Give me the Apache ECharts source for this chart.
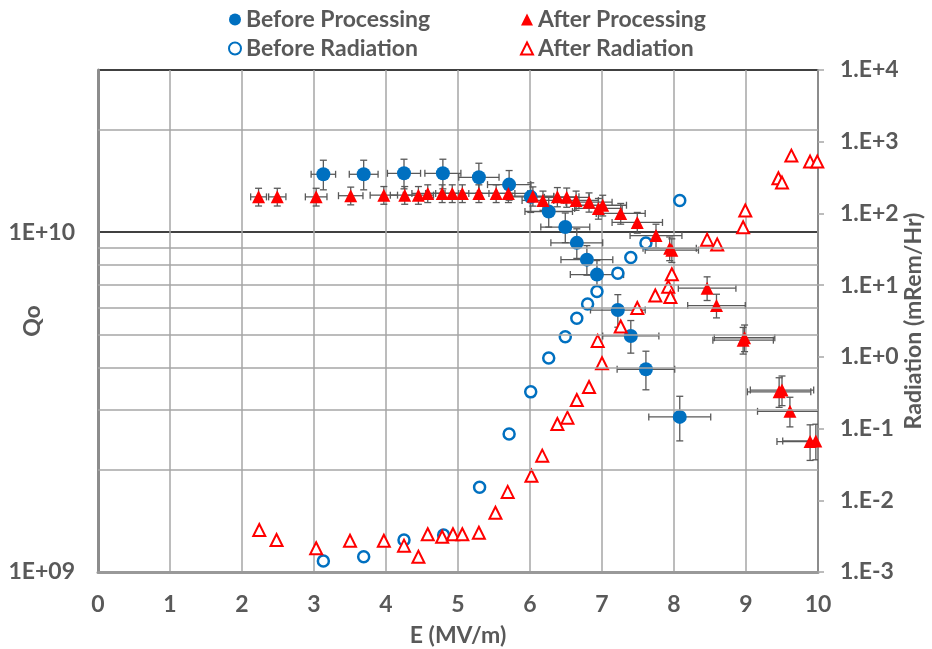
<!DOCTYPE html>
<html>
<head>
<meta charset="utf-8">
<title>Qo and radiation vs E</title>
<script src="https://cdn.jsdelivr.net/npm/echarts@6/dist/echarts.min.js"></script>
<style>
  html, body { margin: 0; padding: 0; background: #fff; }
  #chart { width: 932px; height: 649px; }
</style>
</head>
<body>
<div id="chart"></div>
<script>
// Before Processing (Qo, left axis)
var bpE    = [3.13, 3.69, 4.25, 4.79, 5.29, 5.71, 6.01, 6.26, 6.49, 6.65, 6.79, 6.93, 7.22, 7.40, 7.61, 8.08];
var bpQ    = [1.48e10, 1.48e10, 1.49e10, 1.49e10, 1.45e10, 1.38e10, 1.27e10, 1.15e10, 1.035e10, 9.3e9, 8.3e9, 7.5e9, 5.9e9, 4.95e9, 3.95e9, 2.86e9];
var bpEerr = [0.17, 0.20, 0.23, 0.25, 0.28, 0.30, 0.32, 0.33, 0.34, 0.36, 0.36, 0.37, 0.38, 0.39, 0.40, 0.43];
var bpQerr = [0.10, 0.10, 0.10, 0.10, 0.10, 0.10, 0.10, 0.10, 0.10, 0.10, 0.10, 0.10, 0.11, 0.11, 0.13, 0.15];

// After Processing (Qo, left axis)
var apE    = [2.23, 2.49, 3.03, 3.51, 3.97, 4.26, 4.45, 4.58, 4.78, 4.92, 5.06, 5.29, 5.53, 5.70, 6.04, 6.18, 6.38, 6.51, 6.64, 6.82,
              6.95, 7.01, 7.26, 7.49, 7.75, 7.94, 7.97, 8.46, 8.59, 8.96, 8.98, 9.46, 9.50, 9.61, 9.89, 9.97];
var apQ    = [1.27e10, 1.27e10, 1.27e10, 1.28e10, 1.285e10, 1.285e10, 1.285e10, 1.3e10, 1.3e10, 1.3e10, 1.3e10, 1.3e10, 1.3e10, 1.3e10,
              1.276e10, 1.24e10, 1.27e10, 1.266e10, 1.24e10, 1.225e10, 1.174e10, 1.2e10, 1.135e10, 1.068e10, 9.77e9, 8.96e9, 8.85e9,
              6.84e9, 6.08e9, 4.81e9, 4.89e9, 3.39e9, 3.43e9, 2.97e9, 2.42e9, 2.43e9];
var apEerr = [0.11, 0.12, 0.15, 0.17, 0.19, 0.20, 0.21, 0.22, 0.23, 0.23, 0.24, 0.25, 0.26, 0.27, 0.29, 0.29, 0.30, 0.31, 0.31, 0.32,
              0.33, 0.33, 0.34, 0.35, 0.36, 0.37, 0.37, 0.40, 0.40, 0.42, 0.42, 0.44, 0.44, 0.45, 0.46, 0.46];
var apQerr = [0.06, 0.06, 0.06, 0.06, 0.06, 0.06, 0.06, 0.06, 0.06, 0.06, 0.06, 0.06, 0.06, 0.06, 0.065, 0.065, 0.065, 0.065, 0.065, 0.065,
              0.07, 0.07, 0.07, 0.07, 0.08, 0.08, 0.08, 0.08, 0.08, 0.09, 0.09, 0.10, 0.10, 0.10, 0.12, 0.12];

// Before Radiation (mRem/Hr, right axis)
var brE = [3.13, 3.69, 4.25, 4.80, 5.30, 5.71, 6.01, 6.26, 6.49, 6.65, 6.80, 6.93, 7.22, 7.40, 7.61, 8.08];
var brR = [1.42e-3, 1.63e-3, 2.8e-3, 3.28e-3, 1.52e-2, 8.4e-2, 0.325, 0.966, 1.91, 3.45, 5.47, 8.17, 14.7, 24.3, 38.8, 151];

// After Radiation (mRem/Hr, right axis)
var arE = [2.24, 2.48, 3.03, 3.50, 3.97, 4.25, 4.45, 4.58, 4.78, 4.93, 5.06, 5.29, 5.52, 5.69, 6.02, 6.17, 6.38, 6.52, 6.65, 6.82,
           6.94, 7.00, 7.26, 7.49, 7.74, 7.92, 7.95, 7.97, 8.46, 8.60, 8.96, 8.99, 9.45, 9.50, 9.63, 9.89, 9.99];
var arR = [3.86e-3, 2.8e-3, 2.14e-3, 2.73e-3, 2.73e-3, 2.33e-3, 1.63e-3, 3.36e-3, 3.1e-3, 3.36e-3, 3.36e-3, 3.53e-3, 6.7e-3, 1.31e-2,
           2.2e-2, 4.19e-2, 0.116, 0.142, 0.25, 0.38, 1.67, 0.815, 2.65, 4.81, 7.18, 9.53, 6.84, 14.2, 43.1, 37.0, 64.2, 110,
           310, 269, 640, 528, 528];

// horizontal minor grid lines of the Qo axis
var qGrid = [2e9, 3e9, 4e9, 5e9, 6e9, 7e9, 8e9, 9e9, 2e10];

var blue = '#0070C0', red = '#FF0000', txt = '#595959', gridGrey = '#a6a6a6';
var font = 'Lato, "Open Sans", sans-serif';

function pairs(xs, ys) {
    var out = [];
    for (var i = 0; i < xs.length; i++) out.push([xs[i], ys[i]]);
    return out;
}
function withErr(xs, ys, ex, ey) {
    var out = [];
    for (var i = 0; i < xs.length; i++) out.push([xs[i], ys[i], ex[i], ey[i]]);
    return out;
}

// x and y error bars with caps, drawn through the axis scales
function errorBars(params, api) {
    var x = api.value(0), y = api.value(1), ex = api.value(2), ey = api.value(3);
    var l = api.coord([x - ex, y]), r = api.coord([x + ex, y]);
    var t = api.coord([x, y * (1 + ey)]), b = api.coord([x, y * (1 - ey)]);
    var cap = 3.5;
    var st = { stroke: '#595959', lineWidth: 1.3 };
    function seg(x1, y1, x2, y2) {
        return { type: 'line', shape: { x1: x1, y1: y1, x2: x2, y2: y2 }, style: st };
    }
    return {
        type: 'group',
        children: [
            seg(l[0], l[1], r[0], r[1]),
            seg(l[0], l[1] - cap, l[0], l[1] + cap),
            seg(r[0], r[1] - cap, r[0], r[1] + cap),
            seg(t[0], t[1], b[0], b[1]),
            seg(t[0] - cap, t[1], t[0] + cap, t[1]),
            seg(b[0] - cap, b[1], b[0] + cap, b[1])
        ]
    };
}

var myChart = echarts.init(document.getElementById('chart'));
var legendText = { color: txt, fontSize: 23, fontWeight: 'bold', fontFamily: font };

myChart.setOption({
    animation: false,
    backgroundColor: '#fff',
    textStyle: { fontFamily: font },
    grid: { left: 98, right: 114, top: 70, bottom: 77, outerBoundsMode: 'none', containLabel: false },
    legend: [
        {
            data: ['Before Processing', 'Before Radiation'],
            orient: 'vertical', left: 223, top: 3, itemGap: 6,
            itemWidth: 12, itemHeight: 12, selectedMode: false,
            textStyle: legendText
        },
        {
            data: ['After Processing', 'After Radiation'],
            orient: 'vertical', left: 515, top: 3, itemGap: 6,
            itemWidth: 12, itemHeight: 12, selectedMode: false,
            textStyle: legendText
        }
    ],
    xAxis: {
        type: 'value', min: 0, max: 10, interval: 1,
        name: 'E (MV/m)', nameLocation: 'middle', nameGap: 52,
        nameTextStyle: { color: txt, fontSize: 23, fontWeight: 'bold' },
        axisLine: { lineStyle: { color: '#999', width: 3 } },
        axisTick: { show: false },
        axisLabel: { color: txt, fontSize: 23, fontWeight: 'bold', margin: 21 },
        splitLine: { lineStyle: { color: gridGrey, width: 1.5 } }
    },
    yAxis: [
        {
            type: 'log', min: 1e9, max: 3e10, position: 'left',
            name: 'Qo', nameLocation: 'middle', nameGap: 54, nameRotate: 90, nameMoveOverlap: false,
            nameTextStyle: { color: txt, fontSize: 23, fontWeight: 'bold' },
            axisLine: { show: true, lineStyle: { color: '#8c8c8c', width: 3 } },
            axisTick: { show: false },
            axisLabel: {
                color: txt, fontSize: 23, fontWeight: 'bold', margin: 23,
                formatter: function (v) {
                    var e = Math.log10(v);
                    if (Math.abs(e - Math.round(e)) > 1e-6) return '';
                    e = Math.round(e);
                    return '1E+' + (e < 10 ? '0' : '') + e;
                }
            },
            splitLine: { lineStyle: { color: '#000', width: 1.5 } }
        },
        {
            type: 'log', min: 1e-3, max: 1e4, position: 'right',
            name: 'Radiation (mRem/Hr)', nameLocation: 'middle', nameGap: 84, nameRotate: 90, nameMoveOverlap: false,
            nameTextStyle: { color: txt, fontSize: 23, fontWeight: 'bold' },
            axisLine: { show: true, lineStyle: { color: '#8c8c8c', width: 2 } },
            axisTick: { show: true, length: 6, lineStyle: { color: '#a6a6a6', width: 1.5 } },
            axisLabel: {
                color: txt, fontSize: 23, fontWeight: 'bold', margin: 22,
                formatter: function (v) {
                    var e = Math.round(Math.log10(v));
                    return '1.E' + (e < 0 ? '-' : '+') + Math.abs(e);
                }
            },
            splitLine: { show: false }
        }
    ],
    series: [
        {
            name: 'qGrid', type: 'line', yAxisIndex: 0, data: [], silent: true, z: 1,
            markLine: {
                silent: true, symbol: ['none', 'none'], label: { show: false },
                lineStyle: { color: gridGrey, width: 1.5, type: 'solid' },
                data: qGrid.map(function (v) { return { yAxis: v }; })
            }
        },
        {
            name: 'bpErr', type: 'custom', yAxisIndex: 0, clip: true, z: 2,
            renderItem: errorBars, encode: { x: 0, y: 1 },
            data: withErr(bpE, bpQ, bpEerr, bpQerr)
        },
        {
            name: 'apErr', type: 'custom', yAxisIndex: 0, clip: true, z: 2,
            renderItem: errorBars, encode: { x: 0, y: 1 },
            data: withErr(apE, apQ, apEerr, apQerr)
        },
        {
            name: 'Before Processing', type: 'scatter', yAxisIndex: 0, z: 3,
            symbol: 'circle', symbolSize: 14,
            itemStyle: { color: blue, opacity: 1 },
            data: pairs(bpE, bpQ)
        },
        {
            name: 'After Processing', type: 'scatter', yAxisIndex: 0, z: 4,
            symbol: 'triangle', symbolSize: 13,
            itemStyle: { color: red, opacity: 1 },
            data: pairs(apE, apQ)
        },
        {
            name: 'Before Radiation', type: 'scatter', yAxisIndex: 1, z: 3,
            symbol: 'circle', symbolSize: 11,
            itemStyle: { color: '#fff', borderColor: blue, borderWidth: 2.5, opacity: 1 },
            data: pairs(brE, brR)
        },
        {
            name: 'After Radiation', type: 'scatter', yAxisIndex: 1, z: 3,
            symbol: 'triangle', symbolSize: 12,
            itemStyle: { color: '#fff', borderColor: red, borderWidth: 2, opacity: 1 },
            data: pairs(arE, arR)
        }
    ]
});
</script>
</body>
</html>
